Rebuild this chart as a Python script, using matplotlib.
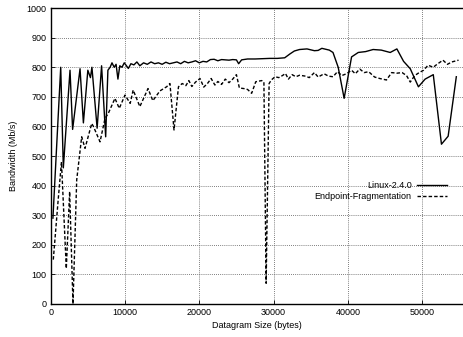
import numpy as np
import matplotlib
matplotlib.use('Agg')
import matplotlib.pyplot as plt

plt.rcParams['font.family'] = ['Liberation Sans', 'DejaVu Sans']

# Linux-2.4.0 (datagram size in bytes, bandwidth in Mb/s)
linux_x = [300, 1350, 1700, 2600, 2950, 3950, 4400, 5000, 5350, 5550, 6250, 6850,
           7400, 7700, 8000, 8250, 8550, 8800, 9050, 9300, 9600, 9900, 10200, 10450,
           10800, 11200, 11600, 12000, 12500, 13000, 13500, 14000, 14500, 15000,
           15500, 16000, 16500, 17000, 17500, 18000, 18500, 19000, 19500, 20000,
           20500, 21000, 21500, 22000, 22500, 23000, 23500, 24000, 24500, 25000,
           25300, 25700, 26500, 27500, 28500, 29500, 30500, 31500, 32200, 32800,
           33500, 34500, 35500, 36000, 36500, 37500, 38000, 38700, 39500, 40500,
           41400, 42400, 43400, 44500, 45700, 46600, 47500, 48400, 49500, 50400,
           51500, 52600, 53500, 54600]
linux_y = [290, 800, 460, 790, 590, 795, 612, 790, 765, 800, 594, 805,
           565, 790, 800, 815, 800, 810, 760, 805, 800, 815, 805, 796,
           812, 808, 818, 805, 815, 810, 818, 812, 815, 810,
           817, 812, 815, 818, 812, 820, 815, 818, 822, 815,
           820, 818, 826, 827, 822, 826, 825, 824, 826, 825,
           812, 825, 828, 828, 829, 830, 830, 832, 845, 855,
           860, 862, 856, 857, 864, 858, 850, 800, 695, 835,
           850, 853, 860, 858, 850, 862, 820, 795, 734, 760,
           775, 540, 567, 768]

# Endpoint-Fragmentation
frag_x = [350, 1000, 1450, 2100, 2550, 3000, 3500, 4170, 4620, 5520, 5750, 6640,
          7310, 7750, 8650, 9230, 10000, 10700, 11100, 12000, 13100, 13750, 14700,
          15600, 16050, 16600, 17200, 17700, 18200, 18600, 19000, 19500, 20100,
          20600, 21100, 21600, 22100, 22500, 23000, 23500, 24000, 24500, 25000,
          25400, 26000, 26500, 27050, 27600, 28400, 28700, 29000, 29400, 29700,
          30200, 30700, 31200, 31600, 32000, 32500, 33000, 33500, 34300, 34800,
          35500, 36000, 36800, 37400, 38000, 38600, 39200, 39800, 40500, 41000,
          41600, 42200, 42800, 43600, 44300, 45200, 45900, 46600, 47300, 47900,
          48400, 49000, 49600, 50200, 50800, 51500, 52000, 52800, 53400, 54000, 54900]
frag_y = [150, 350, 480, 120, 380, 0, 419, 565, 526, 610, 600, 548,
          627, 644, 695, 661, 706, 678, 723, 667, 728, 687, 720,
          734, 745, 588, 734, 745, 738, 755, 735, 750, 762,
          733, 745, 762, 740, 752, 742, 760, 748, 760, 775,
          730, 728, 725, 712, 751, 755, 750, 70, 745, 757,
          768, 765, 772, 779, 760, 775, 768, 773, 770, 765,
          782, 767, 778, 770, 768, 785, 772, 778, 790, 778,
          794, 782, 785, 767, 762, 757, 782, 780, 782, 772,
          750, 772, 782, 790, 807, 800, 810, 824, 810, 818, 824]

fig = plt.figure(figsize=(4.63, 3.37), dpi=100)
ax = fig.add_axes([0.1095, 0.098, 0.8905, 0.878])

ax.plot(linux_x, linux_y, color='black', lw=1.0, label='Linux-2.4.0')
ax.plot(frag_x, frag_y, color='black', lw=1.0, dashes=(2.5, 1.5),
        label='Endpoint-Fragmentation')

ax.set_xlim(0, 55500)
ax.set_ylim(0, 1000)
ax.set_xticks(np.arange(0, 55000, 10000))
ax.set_yticks(np.arange(0, 1001, 100))
ax.grid(True, color='#555555', linestyle=(0, (1, 1.5)), lw=0.6)
ax.tick_params(direction='in', labelsize=6.5, length=3, width=0.6, pad=3)
ax.spines['right'].set_visible(False)
for s in ['left', 'bottom', 'top']:
    ax.spines[s].set_linewidth(1.0)

ax.set_xlabel('Datagram Size (bytes)', fontsize=6.5, labelpad=3)
ax.set_ylabel('Bandwidth (Mb/s)', fontsize=6.5, labelpad=6)

ax.legend(loc='upper right', bbox_to_anchor=(0.975, 0.475),
          bbox_transform=fig.transFigure, frameon=False, markerfirst=False,
          fontsize=6.5, handlelength=3.3, handletextpad=0.6,
          labelspacing=0.15, borderpad=0)

fig.savefig('out.png', dpi=100)
